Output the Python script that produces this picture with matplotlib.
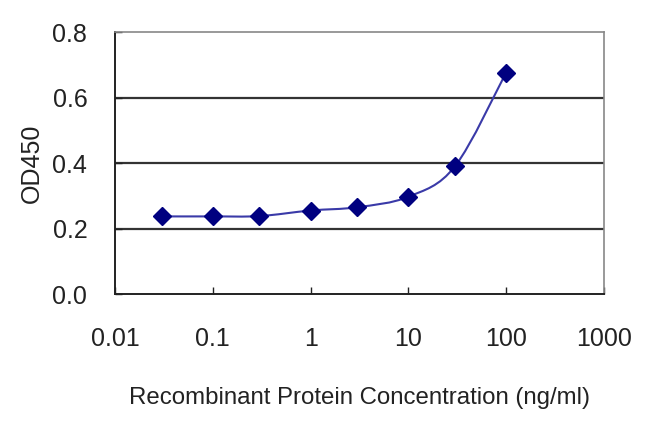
import matplotlib.pyplot as plt
from matplotlib.path import Path
from matplotlib.patches import PathPatch
import numpy as np

# Data
conc = [0.03, 0.1, 0.3, 1, 3, 10, 30, 100]
od450 = [0.237, 0.237, 0.238, 0.255, 0.265, 0.297, 0.390, 0.676]
x_ticks = [0.01, 0.1, 1, 10, 100, 1000]
x_tick_labels = ['0.01', '0.1', '1', '10', '100', '1000']
y_ticks = [0.0, 0.2, 0.4, 0.6, 0.8]
y_tick_labels = ['0.0', '0.2', '0.4', '0.6', '0.8']

plt.rcParams['font.family'] = ['Liberation Sans', 'DejaVu Sans']

fig = plt.figure(figsize=(6.5, 4.33), dpi=100)
ax = fig.add_axes([0.177, 0.321, 0.752, 0.605])

ax.set_xscale('log')
ax.set_xlim(0.01, 1000)
ax.set_ylim(0, 0.8)

# smoothed line (Catmull-Rom as bezier, like a spreadsheet "smoothed line")
lx = np.log10(conc)
py = np.array(od450)
verts = [(lx[0], py[0])]
codes = [Path.MOVETO]
n = len(lx)
for i in range(n - 1):
    i0 = max(i - 1, 0)
    i3 = min(i + 2, n - 1)
    c1 = (lx[i] + (lx[i + 1] - lx[i0]) / 6, py[i] + (py[i + 1] - py[i0]) / 6)
    c2 = (lx[i + 1] - (lx[i3] - lx[i]) / 6, py[i + 1] - (py[i3] - py[i]) / 6)
    verts += [c1, c2, (lx[i + 1], py[i + 1])]
    codes += [Path.CURVE4] * 3
verts = [(10 ** vx, vy) for vx, vy in verts]
ax.add_patch(PathPatch(Path(verts, codes), facecolor='none', edgecolor='#3a3aa8', linewidth=1.5, zorder=3))

ax.plot(conc, od450, linestyle='none', marker='D', markersize=9, color='#000080', zorder=4)

# gridlines
for yv in [0.2, 0.4, 0.6]:
    ax.axhline(yv, color='#333333', linewidth=1.6, zorder=1)

ax.set_xticks(x_ticks)
ax.set_xticklabels(x_tick_labels)
ax.minorticks_off()
ax.set_yticks(y_ticks)
ax.set_yticklabels(y_tick_labels)
ax.tick_params(axis='both', direction='in', length=5, width=1, labelsize=18, colors='#222222')
ax.tick_params(axis='x', pad=24)
ax.tick_params(axis='y', pad=20)

for s in ['left', 'bottom']:
    ax.spines[s].set_color('#222222')
    ax.spines[s].set_linewidth(1.4)
for s in ['top', 'right']:
    ax.spines[s].set_color('#888888')
    ax.spines[s].set_linewidth(1.2)

ax.set_xlabel('Recombinant Protein Concentration (ng/ml)', fontsize=17.3, color='#222222', labelpad=26)
ax.set_ylabel('OD450', fontsize=18, color='#222222', labelpad=6)

fig.savefig('out.png', dpi=100)
